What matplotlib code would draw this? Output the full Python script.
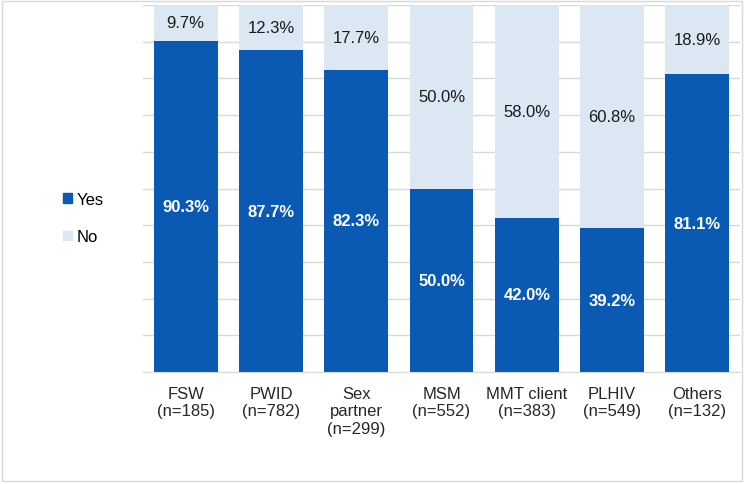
import matplotlib
matplotlib.use("Agg")
import matplotlib.pyplot as plt
from matplotlib.patches import Rectangle, Patch

plt.rcParams['font.family'] = ['Liberation Sans', 'DejaVu Sans']

groups = ["FSW\n(n=185)", "PWID\n(n=782)", "Sex\npartner\n(n=299)", "MSM\n(n=552)",
          "MMT client\n(n=383)", "PLHIV\n(n=549)", "Others\n(n=132)"]
yes = [90.3, 87.7, 82.3, 50.0, 42.0, 39.2, 81.1]
no = [9.7, 12.3, 17.7, 50.0, 58.0, 60.8, 18.9]

yes_col = "#0a5ab4"
no_col = "#dce7f4"

fig = plt.figure(figsize=(7.45, 4.85), dpi=100)
ax = fig.add_axes([143/745, 112/485, 597/745, 367/485])

x = list(range(len(groups)))
b1 = ax.bar(x, yes, width=0.75, color=yes_col, zorder=2)
b2 = ax.bar(x, no, width=0.75, bottom=yes, color=no_col, zorder=2)

for i in x:
    ax.text(i, yes[i] / 2, "%.1f%%" % yes[i], ha='center', va='center',
            color='white', fontsize=12, fontweight='bold', zorder=3)
    ax.text(i, yes[i] + no[i] / 2, "%.1f%%" % no[i], ha='center', va='center',
            color='#1a1a1a', fontsize=12, zorder=3)

ax.set_xlim(-0.5, len(groups) - 0.5)
ax.set_ylim(0, 100)
ax.set_yticks(range(0, 101, 10))
ax.yaxis.grid(True, color='#d9d9d9', lw=1, zorder=0)
ax.set_yticklabels([])
ax.tick_params(axis='y', length=0)
ax.set_xticks(x)
ax.set_xticklabels(groups, fontsize=12, color='#262626', va='top', linespacing=1.2)
ax.tick_params(axis='x', length=0, pad=10)
for s in ['top', 'right', 'left']:
    ax.spines[s].set_visible(False)
ax.spines['bottom'].set_color('#d9d9d9')

handles = [Patch(color=yes_col), Patch(color=no_col)]
fig.legend(handles, ["Yes", "No"], loc='center left', bbox_to_anchor=(55/745, 1 - 219/485),
           frameon=False, fontsize=12, handlelength=0.5, handleheight=0.5,
           handletextpad=0.3, labelspacing=1.35, borderpad=0)

fig.patches.append(Rectangle((2/745, 3/485), 740/745, 480/485, transform=fig.transFigure,
                             fill=False, edgecolor='#d9d9d9', lw=1))

fig.savefig("out.png", dpi=100)
